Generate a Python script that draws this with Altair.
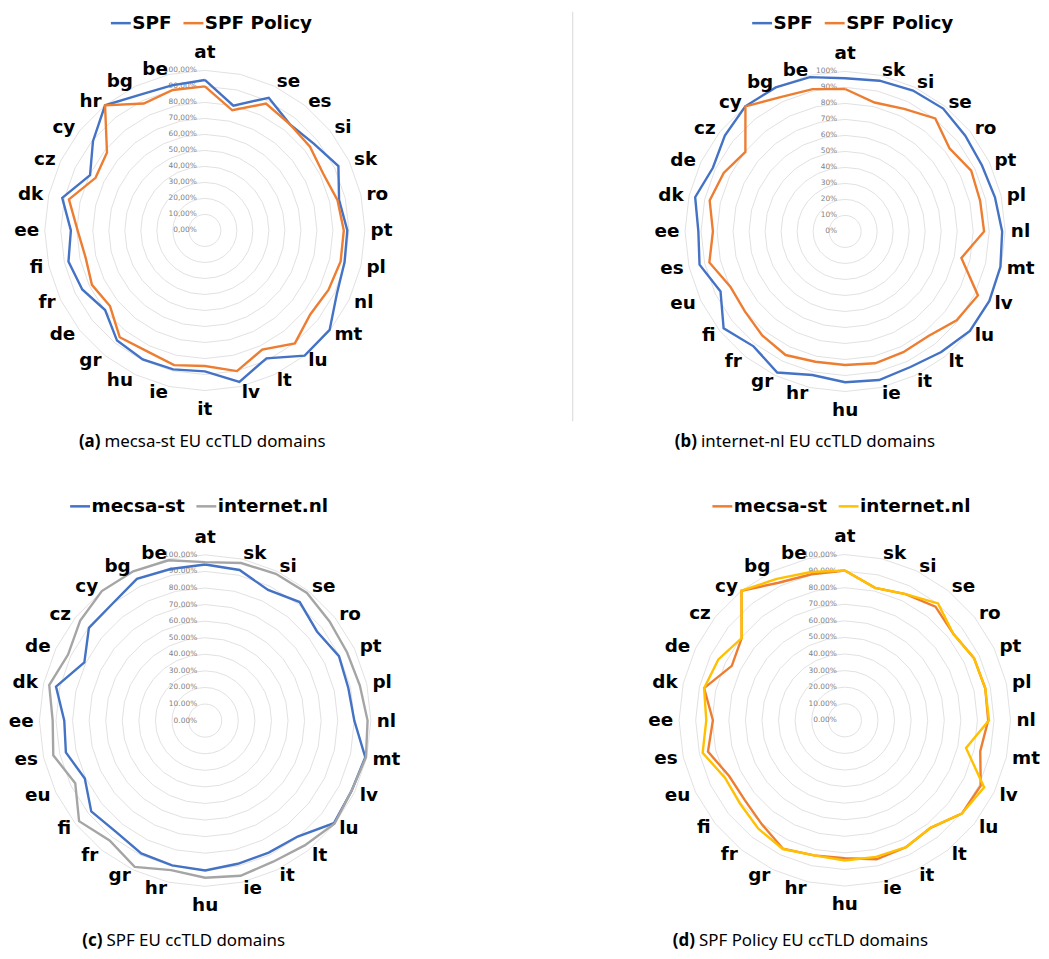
import altair as alt
import pandas as pd

# ---------------- data ----------------
CATS_A = ["at", "", "se", "es", "si", "sk", "ro", "pt", "pl", "nl", "mt", "lu", "lt", "lv",
          "it", "ie", "hu", "gr", "de", "fr", "fi", "ee", "dk", "cz", "cy", "hr", "bg", "be"]
SPF_A = [94, 80, 92, 85, 87, 92.6, 86, 89, 89.5, 91.5, 99.7, 100, 88.7, 97,
         88, 89, 89.4, 88, 79.7, 85, 87.4, 83.7, 91.4, 79.6, 89.4, 100, 94, 93]
POLICY_A = [90, 77, 88, 85, 84, 82, 85, 86.8, 87, 85.7, 84.2, 90.2, 82.6, 90.1,
            84.7, 86.3, 83.7, 85.3, 75.8, 78.3, 76.4, 79.5, 87.1, 75.8, 78.2, 100, 88, 90]

CATS_B = ["at", "sk", "si", "se", "ro", "pt", "pl", "nl", "mt", "lv", "lu", "lt", "it", "ie",
          "hu", "hr", "gr", "fr", "fi", "eu", "es", "ee", "dk", "de", "cz", "cy", "bg", "be"]
SPF_B = [95.7, 96.6, 97.7, 98.2, 96, 94.9, 96, 98.1, 99.5, 100, 99.7, 96.3, 94, 95.2,
         94.2, 92, 97.8, 91.8, 97.1, 86.4, 93.3, 91.7, 96.1, 91.7, 96.1, 100, 99.9, 98.9]
POLICY_B = [89, 82.6, 85, 90.3, 83.4, 87.4, 86.5, 86.8, 74.5, 92.1, 89.1, 83.5, 83.7, 84.5,
            83.4, 83.5, 85.7, 83.1, 80.1, 79.6, 87, 82.6, 86.8, 84.2, 79.7, 99.9, 93.1, 91.2]

CATS_CD = ["at", "sk", "si", "se", "ro", "pt", "pl", "nl", "mt", "lv", "lu", "lt", "it", "ie",
           "hu", "hr", "gr", "fr", "fi", "eu", "es", "ee", "dk", "de", "cz", "cy", "bg", "be"]
MECSA_C = [94.2, 93.2, 87.5, 91.5, 86.3, 89.6, 88.6, 90, 99.1, 98, 99.3, 89.5, 88.4, 88.6,
           90.4, 89.6, 88.9, 86, 87.9, 80.6, 86.2, 85, 92.3, 80.9, 89.7, 90, 94.9, 93.8]
INL_C = [95.6, 97.5, 98.3, 98.5, 96, 95, 95.7, 98, 99.5, 98, 99.8, 96.3, 94.5, 96,
         94.8, 92.5, 98, 92.5, 97.3, 87, 94, 92, 96.5, 91.8, 96.5, 100, 100, 99.2]
MECSA_D = [90.4, 82, 84.5, 87.7, 83.7, 86.5, 86.9, 86.5, 83.8, 91, 90.3, 83, 85, 86,
           83.2, 83.6, 86, 80.3, 77.2, 77.5, 84.7, 79.6, 87.1, 75.7, 79.6, 100, 92.1, 90.4]
INL_D = [90.4, 82, 84.5, 90.2, 83.7, 86.5, 86.9, 87, 75, 93.3, 90.3, 82.9, 85, 84.5,
         84.6, 83.6, 86.2, 83.7, 80.8, 80.2, 88, 83.6, 87.1, 84.7, 79.6, 100, 94.7, 91.8]

TICKS = [0, 10, 20, 30, 40, 50, 60, 70, 80, 90, 100]
TICK_LABELS_A = ["0,00%", "10,00%", "20,00%", "30,00%", "40,00%", "50,00%",
                 "60,00%", "70,00%", "80,00%", "90,00%", "100,00%"]
TICK_LABELS_B = ["0%", "10%", "20%", "30%", "40%", "50%", "60%", "70%", "80%", "90%", "100%"]
TICK_LABELS_CD = ["0.00%", "10.00%", "20.00%", "30.00%", "40.00%", "50.00%",
                  "60.00%", "70.00%", "80.00%", "90.00%", "100.00%"]

BLUE, ORANGE, GRAY, YELLOW = "#4472C4", "#ED7D31", "#A5A5A5", "#FFC000"
BOLD_FONT = "DejaVu Sans"
CAP_FONT = "Noto Sans"


def radar(cats, series, colors, tick_labels, k, width, height, cx, cy,
          legend_x, legend_y, tag, caption, tag_x, cap_y, divider=False):
    n = len(cats)
    rows = []
    for name, vals in series:
        for i in range(n + 1):
            rows.append({"series": name, "idx": i, "value": vals[i % n]})
    df = pd.DataFrame(rows)
    grid = pd.DataFrame([{"level": t, "idx": i} for t in TICKS if t > 0 for i in range(n + 1)])
    tick_df = pd.DataFrame({"level": TICKS, "label": tick_labels})
    cat_df = pd.DataFrame({"idx": list(range(n)), "cat": cats})

    xs = alt.Scale(domain=[-cx / k, (width - cx) / k], nice=False, zero=False)
    ys = alt.Scale(domain=[-(height - cy) / k, cy / k], nice=False, zero=False)
    ang = f"2*PI*datum.idx/{n}"

    rings = alt.Chart(grid).transform_calculate(
        px=f"datum.level*sin({ang})", py=f"datum.level*cos({ang})"
    ).mark_line(color="#D9D9D9", strokeWidth=0.8).encode(
        x=alt.X("px:Q", scale=xs, axis=None),
        y=alt.Y("py:Q", scale=ys, axis=None),
        detail="level:N", order="idx:Q")

    ticks = alt.Chart(tick_df).transform_calculate(px="0").mark_text(
        align="right", baseline="middle", dx=-8, fontSize=7.5, color="#7F7F7F",
        font="DejaVu Sans"
    ).encode(x=alt.X("px:Q", scale=xs, axis=None), y=alt.Y("level:Q", scale=ys, axis=None),
             text="label:N")

    lines = alt.Chart(df).transform_calculate(
        px=f"datum.value*sin({ang})", py=f"datum.value*cos({ang})"
    ).mark_line(strokeWidth=2.4).encode(
        x=alt.X("px:Q", scale=xs, axis=None),
        y=alt.Y("py:Q", scale=ys, axis=None),
        color=alt.Color("series:N", sort=[s[0] for s in series],
                        scale=alt.Scale(domain=[s[0] for s in series], range=colors),
                        legend=alt.Legend(orient="none", legendX=legend_x, legendY=legend_y,
                                          direction="horizontal", title=None,
                                          symbolType="stroke", symbolSize=400,
                                          symbolStrokeWidth=2.5, labelFontSize=18.5,
                                          labelFont=BOLD_FONT, labelFontWeight="bold",
                                          labelColor="black", labelOffset=0,
                                          columnPadding=6, padding=0)),
        order="idx:Q")

    r0 = 103.5
    lab_base = alt.Chart(cat_df).transform_calculate(
        s=f"sin({ang})", c=f"cos({ang})"
    ).transform_calculate(
        rr=f"{r0} + (abs(datum.s) < 0.01 ? {12.5 / k} : 0)"
    ).transform_calculate(
        px="datum.rr*datum.s", py="datum.rr*datum.c"
    )
    enc = dict(x=alt.X("px:Q", scale=xs, axis=None), y=alt.Y("py:Q", scale=ys, axis=None),
               text="cat:N")
    lab_kw = dict(baseline="middle", fontSize=18.5, font=BOLD_FONT, fontWeight="bold",
                  color="black")
    lab_left = lab_base.transform_filter("datum.s > 0.01").mark_text(align="left", **lab_kw).encode(**enc)
    lab_right = lab_base.transform_filter("datum.s < -0.01").mark_text(align="right", **lab_kw).encode(**enc)
    lab_center = lab_base.transform_filter("abs(datum.s) <= 0.01").mark_text(align="center", **lab_kw).encode(**enc)

    cap1 = alt.Chart(pd.DataFrame({"t": [tag]})).mark_text(
        align="right", baseline="middle", font=CAP_FONT, fontSize=17, fontWeight="bold",
        color="black").encode(x=alt.value(tag_x), y=alt.value(cap_y), text="t:N")
    cap2 = alt.Chart(pd.DataFrame({"t": [caption]})).mark_text(
        align="left", baseline="middle", font=CAP_FONT, fontSize=17, color="black"
    ).encode(x=alt.value(tag_x + 4), y=alt.value(cap_y), text="t:N")

    layers = [rings, ticks, lines, lab_left, lab_right, lab_center, cap1, cap2]
    if divider:
        layers.insert(0, alt.Chart(pd.DataFrame({"a": [0]})).mark_rule(
            color="#D9D9D9", strokeWidth=1).encode(x=alt.value(45), y=alt.value(0),
                                                  y2=alt.value(412)))
    return alt.layer(*layers).properties(width=width, height=height)


pa = radar(CATS_A, [("SPF", SPF_A), ("SPF Policy", POLICY_A)], [BLUE, ORANGE], TICK_LABELS_A,
           1.61, 520, 462, 195, 220, 99, 0, "(a)", "mecsa-st EU ccTLD domains", 90, 433)
pb = radar(CATS_B, [("SPF", SPF_B), ("SPF Policy", POLICY_B)], [BLUE, ORANGE], TICK_LABELS_B,
           1.61, 513, 462, 319, 221, 224, 0, "(b)", "internet-nl EU ccTLD domains", 170, 433,
           divider=True)
pc = radar(CATS_CD, [("mecsa-st", MECSA_C), ("internet.nl", INL_C)], [BLUE, GRAY], TICK_LABELS_CD,
           1.667, 520, 480, 195.3, 251, 58, 24, "(c)", "SPF EU ccTLD domains", 92, 473)
pd_ = radar(CATS_CD, [("mecsa-st", MECSA_D), ("internet.nl", INL_D)], [ORANGE, YELLOW],
            TICK_LABELS_CD, 1.667, 513, 480, 318.7, 250.7, 184, 24, "(d)",
            "SPF Policy EU ccTLD domains", 168, 473)

chart = alt.concat(pa, pb, pc, pd_, columns=2, spacing=0).resolve_scale(
    color="independent", x="independent", y="independent"
).properties(padding=0, bounds="flush").configure_view(stroke=None)

chart.save("out.html", embed_options={"renderer": "svg", "actions": False})
